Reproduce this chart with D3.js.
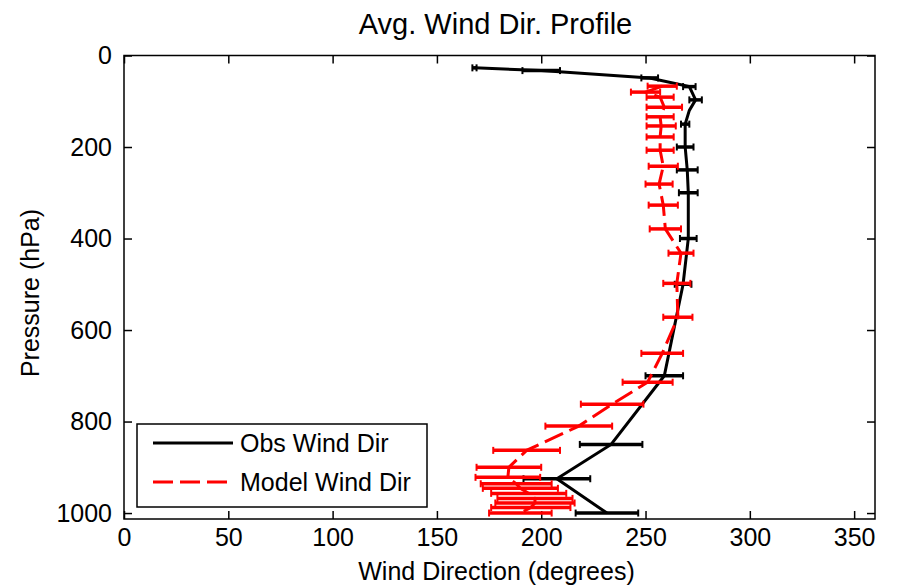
<!DOCTYPE html>
<html>
<head>
<meta charset="utf-8">
<script src="https://cdn.jsdelivr.net/npm/d3@7"></script>
<style>
  body { margin: 0; background: #fff; }
  svg { display: block; font-family: "Liberation Sans", Arial, sans-serif; }
</style>
</head>
<body>
<svg width="898" height="588"></svg>
<script>
var width = 898;
var height = 588;
var margin = {left: 124, top: 55.5, right: 23, bottom: 69};

// observed profile: pressure (hPa), direction (deg), half width of error bar
var obsPressure = [27, 33, 49, 68, 97, 120, 150, 200, 250, 300, 400, 500, 700, 850, 925, 1000];
var obsDir      = [168, 200, 252, 271, 274, 271, 269, 269, 270, 270.5, 270.5, 268, 259, 233.5, 207.5, 231.5];
var obsErr      = [1, 9, 4, 3, 3, 0, 2, 4, 5, 4.5, 4, 4, 9, 15, 16, 15];

// model profile
var modPressure = [67, 80, 91, 113, 134, 154, 178, 207, 242, 281, 327, 379, 432, 498, 572, 651, 714, 762, 810, 863, 900, 922, 936, 946, 957, 968, 978, 988, 1000];
var modDir      = [258, 250, 257, 259, 257, 257.5, 257, 257, 258.5, 256.5, 258.5, 259.5, 267, 265, 265.5, 258, 251, 234, 218, 193, 184.5, 184, 188, 190, 194, 197, 197, 195, 190];
var modErr      = [7, 7, 6.5, 8.5, 6.5, 7, 6.5, 6.5, 7, 6.5, 7, 7.5, 6, 6.5, 7, 10, 12, 15, 16, 16, 15.5, 15.5, 17, 18, 18, 18, 19, 19, 15];

var xTicks = [0, 50, 100, 150, 200, 250, 300, 350];
var yTicks = [0, 200, 400, 600, 800, 1000];

var svg = d3.select('svg');

var x = d3.scaleLinear().domain([0, 360]).range([margin.left, width - margin.right]);
var y = d3.scaleLinear().domain([0, 1013]).range([margin.top, height - margin.bottom]);

function rows(p, d, e) {
  return p.map(function(v, i) { return {p: v, dir: d[i], err: e[i]}; });
}
var obs = rows(obsPressure, obsDir, obsErr);
var mod = rows(modPressure, modDir, modErr);

// axes with inward ticks on all sides
var tickFont = 25;
function styleAxis(g) {
  g.select('.domain').remove();
  g.selectAll('.tick line').attr('stroke', '#000').attr('stroke-width', 1.5);
  g.selectAll('text').attr('font-size', tickFont).attr('fill', '#000')
    .attr('font-family', '"Liberation Sans", Arial, sans-serif');
}

svg.append('g')
  .attr('transform', 'translate(0,' + y.range()[1] + ')')
  .call(d3.axisBottom(x).tickValues(xTicks).tickSize(-8).tickPadding(9).tickFormat(d3.format('d')))
  .call(styleAxis);
svg.append('g')
  .attr('transform', 'translate(0,' + y.range()[0] + ')')
  .call(d3.axisTop(x).tickValues(xTicks).tickSize(-8).tickFormat(''))
  .call(styleAxis);
svg.append('g')
  .attr('transform', 'translate(' + x.range()[0] + ',0)')
  .call(d3.axisLeft(y).tickValues(yTicks).tickSize(-8).tickPadding(12).tickFormat(d3.format('d')))
  .call(styleAxis);
svg.append('g')
  .attr('transform', 'translate(' + x.range()[1] + ',0)')
  .call(d3.axisRight(y).tickValues(yTicks).tickSize(-8).tickFormat(''))
  .call(styleAxis);

svg.append('rect')
  .attr('x', x.range()[0]).attr('y', y.range()[0])
  .attr('width', x.range()[1] - x.range()[0])
  .attr('height', y.range()[1] - y.range()[0])
  .attr('fill', 'none').attr('stroke', '#000').attr('stroke-width', 1.5);

var line = d3.line()
  .x(function(d) { return x(d.dir); })
  .y(function(d) { return y(d.p); });

function errorBars(data, color, cls) {
  var g = svg.append('g').attr('class', cls);
  g.selectAll('line.bar')
    .data(data).enter().append('line')
    .attr('class', 'bar')
    .attr('x1', function(d) { return x(d.dir - d.err); })
    .attr('x2', function(d) { return x(d.dir + d.err); })
    .attr('y1', function(d) { return y(d.p); })
    .attr('y2', function(d) { return y(d.p); })
    .attr('stroke', color).attr('stroke-width', 3.5);
  // end caps
  [-1, 1].forEach(function(s) {
    g.selectAll('line.cap' + s)
      .data(data.filter(function(d) { return d.err > 0; })).enter().append('line')
      .attr('x1', function(d) { return x(d.dir + s * d.err); })
      .attr('x2', function(d) { return x(d.dir + s * d.err); })
      .attr('y1', function(d) { return y(d.p) - 3.5; })
      .attr('y2', function(d) { return y(d.p) + 3.5; })
      .attr('stroke', color).attr('stroke-width', 2);
  });
}

// observed (black, solid)
svg.append('path')
  .datum(obs)
  .attr('d', line)
  .attr('fill', 'none').attr('stroke', '#000').attr('stroke-width', 3);
errorBars(obs, '#000', 'obs');

// model (red, dashed)
svg.append('path')
  .datum(mod)
  .attr('d', line)
  .attr('fill', 'none').attr('stroke', '#ff0000').attr('stroke-width', 3)
  .attr('stroke-dasharray', '20,7');
errorBars(mod, '#ff0000', 'mod');

// legend
var legend = svg.append('g');
legend.append('rect')
  .attr('x', 137).attr('y', 424).attr('width', 290).attr('height', 83)
  .attr('fill', '#fff').attr('stroke', '#000').attr('stroke-width', 1.5);
var legItems = [
  {label: 'Obs Wind Dir', color: '#000', dash: null, yy: 443},
  {label: 'Model Wind Dir', color: '#ff0000', dash: '20,7', yy: 482}
];
legItems.forEach(function(it) {
  legend.append('line')
    .attr('x1', 153).attr('x2', 233).attr('y1', it.yy).attr('y2', it.yy)
    .attr('stroke', it.color).attr('stroke-width', 3)
    .attr('stroke-dasharray', it.dash);
  legend.append('text')
    .attr('x', 240).attr('y', it.yy).attr('dy', '0.35em')
    .attr('font-size', 25).text(it.label);
});

// title and axis labels
svg.append('text')
  .attr('x', (x.range()[0] + x.range()[1]) / 2 - 4).attr('y', 34)
  .attr('text-anchor', 'middle').attr('font-size', 29)
  .text('Avg. Wind Dir. Profile');

svg.append('text')
  .attr('x', (x.range()[0] + x.range()[1]) / 2 - 3).attr('y', 580)
  .attr('text-anchor', 'middle').attr('font-size', 25)
  .text('Wind Direction (degrees)');

svg.append('text')
  .attr('transform', 'translate(39,293) rotate(-90)')
  .attr('text-anchor', 'middle').attr('font-size', 25)
  .text('Pressure (hPa)');
</script>
</body>
</html>
